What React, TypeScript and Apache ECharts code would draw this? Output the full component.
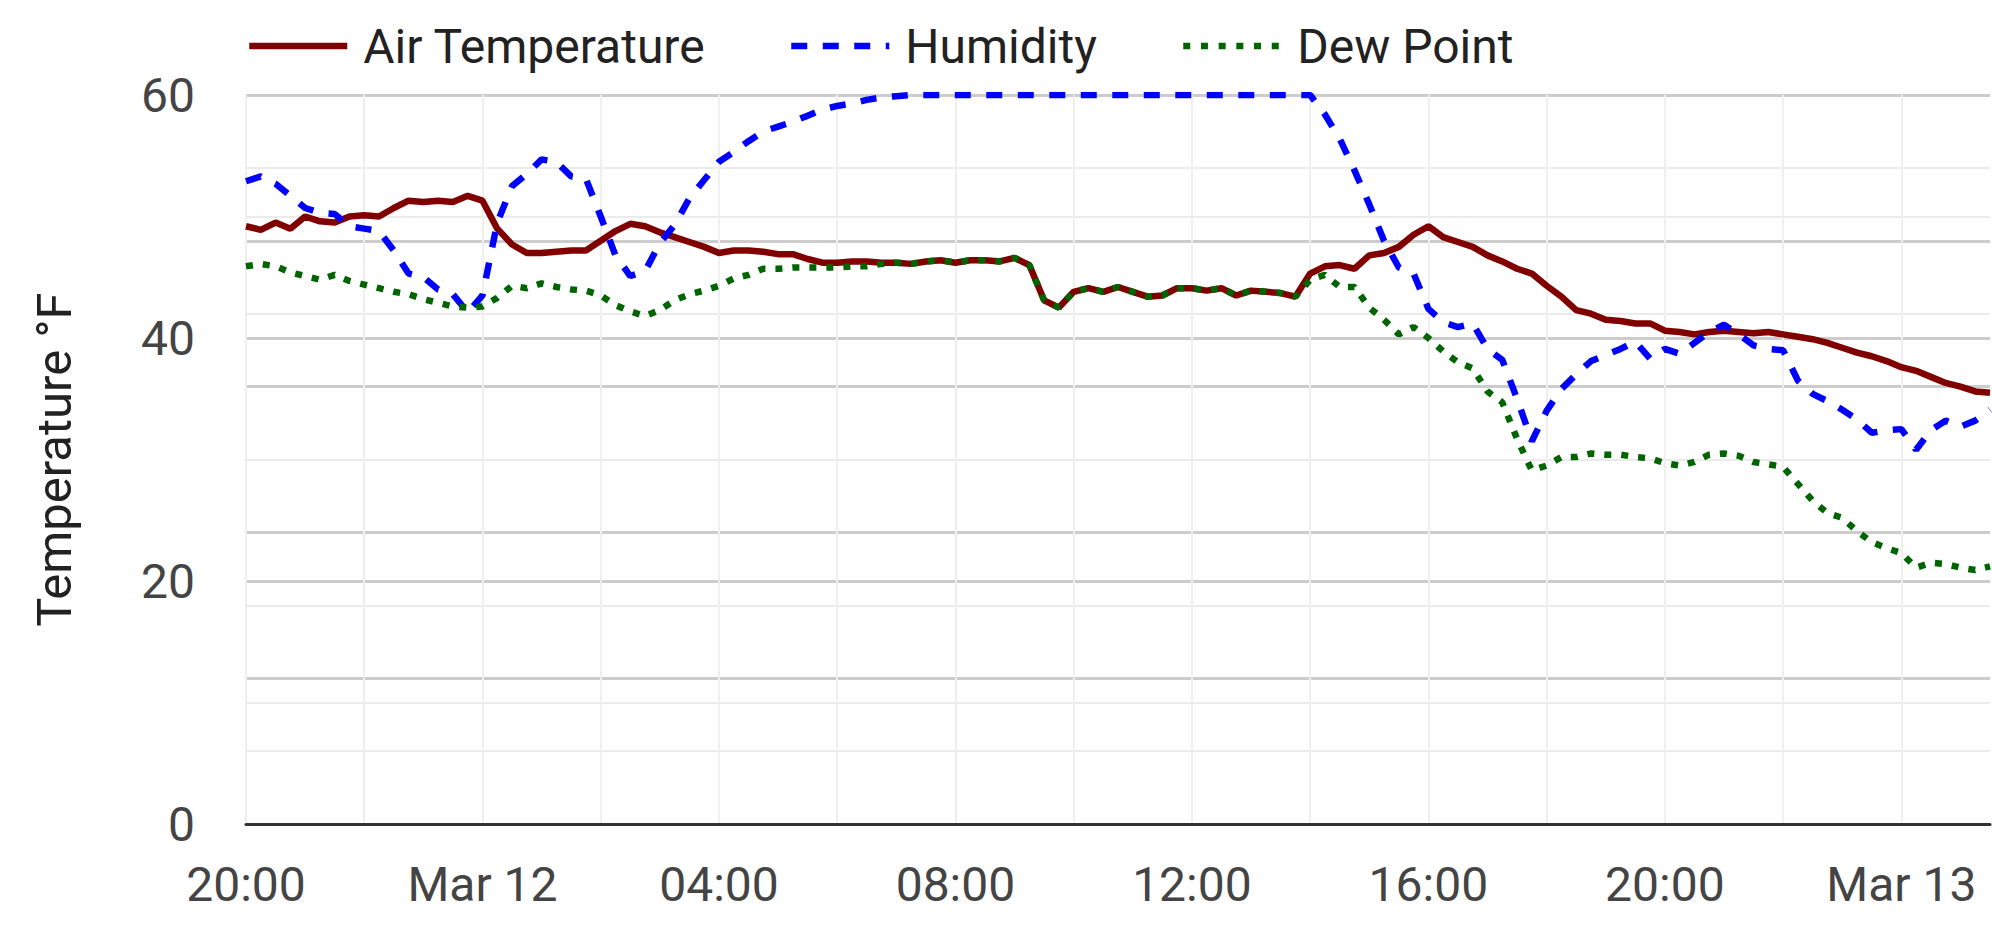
import { useEffect, useRef } from "react";
import * as echarts from "echarts";

// Samples every 15 minutes, starting Mar 11 20:00
const START_DAY = 11;
const START_HOUR = 20;
const STEP_MINUTES = 15;

const airTemperature = [
  49.2, 48.9, 49.5, 49.0, 50.0, 49.6, 49.5, 50.0, 50.1, 50.0,
  50.7, 51.3, 51.2, 51.3, 51.2, 51.7, 51.3, 49.0, 47.7, 47.0,
  47.0, 47.1, 47.2, 47.2, 48.0, 48.8, 49.4, 49.2, 48.7, 48.3,
  47.9, 47.5, 47.0, 47.2, 47.2, 47.1, 46.9, 46.9, 46.5, 46.2,
  46.2, 46.3, 46.3, 46.2, 46.2, 46.1, 46.3, 46.4, 46.2, 46.4,
  46.4, 46.3, 46.6, 46.0, 43.1, 42.5, 43.8, 44.1, 43.8, 44.2,
  43.8, 43.4, 43.5, 44.1, 44.1, 43.9, 44.1, 43.5, 43.9, 43.8,
  43.7, 43.4, 45.3, 45.9, 46.0, 45.7, 46.8, 47.0, 47.5, 48.5,
  49.2, 48.3, 47.9, 47.5, 46.8, 46.3, 45.7, 45.3, 44.3, 43.4,
  42.3, 42.0, 41.5, 41.4, 41.2, 41.2, 40.6, 40.5, 40.3, 40.5,
  40.6, 40.5, 40.4, 40.5, 40.3, 40.1, 39.9, 39.6, 39.2, 38.8,
  38.5, 38.1, 37.6, 37.3, 36.8, 36.3, 36.0, 35.6, 35.5,
];

const humidity = [
  52.9, 53.3, 52.7, 51.7, 50.7, 50.3, 50.2, 49.2, 49.0, 48.8,
  47.2, 45.3, 45.0, 44.0, 43.6, 42.1, 43.5, 49.5, 52.5, 53.5,
  54.7, 54.5, 53.3, 53.1, 50.0, 46.8, 45.1, 45.5, 47.8, 49.3,
  51.5, 53.0, 54.5, 55.3, 56.2, 57.0, 57.4, 57.8, 58.3, 58.8,
  59.1, 59.3, 59.6, 59.8, 59.9, 60, 60, 60, 60, 60,
  60, 60, 60, 60, 60, 60, 60, 60, 60, 60,
  60, 60, 60, 60, 60, 60, 60, 60, 60, 60,
  60, 60, 60, 58.4, 56.4, 53.8, 51.0, 48.0, 45.8, 45.3,
  42.4, 41.3, 40.9, 41.2, 39.1, 38.2, 35.0, 31.5, 34.0, 35.8,
  37.0, 38.1, 38.6, 39.1, 39.7, 38.3, 39.1, 38.7, 39.6, 40.5,
  41.1, 40.3, 39.4, 39.1, 39.0, 36.5, 35.4, 34.8, 34.1, 33.3,
  32.2, 32.4, 32.5, 30.8, 32.4, 33.2, 32.7, 33.2, 34.1,
];

const dewPoint = [
  45.9, 46.1, 45.9, 45.4, 45.1, 44.8, 45.2, 44.7, 44.4, 44.1,
  43.8, 43.6, 43.2, 42.9, 42.6, 42.5, 42.6, 43.3, 44.3, 44.1,
  44.5, 44.2, 44.0, 43.9, 43.5, 42.7, 42.2, 41.8, 42.3, 43.1,
  43.6, 43.9, 44.3, 44.9, 45.2, 45.7, 45.7, 45.8, 45.8, 45.8,
  45.8, 45.9, 45.9, 46.1, 46.2, 46.1, 46.3, 46.4, 46.2, 46.4,
  46.4, 46.3, 46.6, 46.0, 43.1, 42.5, 43.8, 44.1, 43.8, 44.2,
  43.8, 43.4, 43.5, 44.1, 44.1, 43.9, 44.1, 43.5, 43.9, 43.8,
  43.7, 43.4, 44.8, 45.2, 44.2, 44.2, 42.5, 41.5, 40.3, 40.9,
  40.0, 38.9, 38.0, 37.5, 35.6, 34.7, 31.7, 29.1, 29.5, 30.2,
  30.2, 30.5, 30.4, 30.4, 30.2, 30.1, 29.7, 29.5, 29.8, 30.4,
  30.5, 30.3, 29.8, 29.6, 29.4, 28.0, 26.6, 25.6, 25.2, 24.1,
  23.2, 22.7, 22.3, 21.1, 21.5, 21.4, 21.1, 20.9, 21.2,
];

const X_TICK_LABELS = ["20:00", "Mar 12", "04:00", "08:00", "12:00", "16:00", "20:00", "Mar 13"];
const X_LABEL_EVERY = 16; // 4 hours
const X_GRID_EVERY = 8; // 2 hours

const SERIES_NAMES = ["Air Temperature", "Humidity", "Dew Point"];
const SERIES_COLORS = ["#800000", "#0000ff", "#006400"];
const DASH_HUMIDITY = [16, 15.5];
const DOT_DEW = [7, 10];

const pad = (n: number) => String(n).padStart(2, "0");
const times = airTemperature.map((_, i) => {
  const total = START_HOUR * 60 + i * STEP_MINUTES;
  const day = START_DAY + Math.floor(total / 1440);
  const mins = total % 1440;
  return `Mar ${day} ${pad(Math.floor(mins / 60))}:${pad(mins % 60)}`;
});

export default function App() {
  const ref = useRef<HTMLDivElement>(null);

  useEffect(() => {
    if (!ref.current) return;
    const chart = echarts.init(ref.current, null, { renderer: "svg" });
    const font = "Roboto";
    const legendCommon = {
      top: 22,
      padding: 0,
      itemGap: 0,
      itemWidth: 98,
      itemHeight: 14,
      selectedMode: false,
      itemStyle: { color: "rgba(0,0,0,0)", borderWidth: 0, opacity: 0 },
      textStyle: {
        fontFamily: font,
        fontSize: 48,
        color: "#222222",
        padding: [0, 0, 0, 11],
      },
    };
    chart.setOption({
      animation: false,
      backgroundColor: "#ffffff",
      grid: { left: 246, right: 2, top: 95, bottom: 104, containLabel: false },
      legend: [
        {
          ...legendCommon,
          left: 246,
          data: [SERIES_NAMES[0]],
          lineStyle: { width: 6.5, color: SERIES_COLORS[0], type: "solid", cap: "butt" },
        },
        {
          ...legendCommon,
          left: 788,
          data: [SERIES_NAMES[1]],
          lineStyle: { width: 6.5, color: SERIES_COLORS[1], type: DASH_HUMIDITY, cap: "butt" },
        },
        {
          ...legendCommon,
          left: 1180,
          data: [SERIES_NAMES[2]],
          lineStyle: { width: 6.5, color: SERIES_COLORS[2], type: [7, 10.7], cap: "butt" },
        },
      ],
      xAxis: {
        type: "category",
        boundaryGap: false,
        data: times,
        axisLine: { show: true, onZero: true, lineStyle: { color: "#333333", width: 3 } },
        axisTick: { show: false },
        axisLabel: {
          interval: (index: number) => index % X_LABEL_EVERY === 0,
          formatter: (value: string) => {
            const i = times.indexOf(value);
            return i % X_LABEL_EVERY === 0 ? X_TICK_LABELS[i / X_LABEL_EVERY] ?? "" : "";
          },
          fontFamily: font,
          fontSize: 48,
          color: "#444444",
          margin: 36,
        },
        splitLine: {
          show: true,
          interval: (index: number) => index % X_GRID_EVERY === 0,
          lineStyle: { color: "#efefef", width: 2 },
        },
      },
      yAxis: [
        {
          type: "value",
          min: 0,
          max: 60,
          interval: 20,
          name: "Temperature °F",
          nameLocation: "middle",
          nameGap: 167,
          nameRotate: 90,
          nameTextStyle: { fontFamily: font, fontSize: 49, color: "#222222" },
          axisLine: { show: false },
          axisTick: { show: false },
          axisLabel: { fontFamily: font, fontSize: 48, color: "#444444", margin: 51 },
          splitLine: { show: true, lineStyle: { color: "#cccccc", width: 3 } },
          minorTick: { show: false, splitNumber: 2 },
          minorSplitLine: { show: true, lineStyle: { color: "#ebebeb", width: 2 } },
        },
        {
          type: "value",
          min: 0,
          max: 60,
          interval: 12,
          position: "right",
          axisLine: { show: false },
          axisTick: { show: false },
          axisLabel: { show: false },
          splitLine: { show: true, lineStyle: { color: "#cccccc", width: 3 } },
          minorTick: { show: false, splitNumber: 2 },
          minorSplitLine: { show: true, lineStyle: { color: "#ebebeb", width: 2 } },
        },
      ],
      series: [
        {
          name: SERIES_NAMES[0],
          type: "line",
          data: airTemperature,
          symbol: "none",
          color: SERIES_COLORS[0],
          lineStyle: { color: SERIES_COLORS[0], width: 6.5 },
        },
        {
          name: SERIES_NAMES[1],
          type: "line",
          data: humidity,
          symbol: "none",
          color: SERIES_COLORS[1],
          lineStyle: { color: SERIES_COLORS[1], width: 6.5, type: DASH_HUMIDITY, cap: "butt" },
        },
        {
          name: SERIES_NAMES[2],
          type: "line",
          data: dewPoint,
          symbol: "none",
          color: SERIES_COLORS[2],
          lineStyle: { color: SERIES_COLORS[2], width: 6.5, type: DOT_DEW, cap: "butt" },
        },
      ],
    });
    return () => chart.dispose();
  }, []);

  return (
    <div
      ref={ref}
      style={{ position: "fixed", left: 0, top: 0, width: 1992, height: 928, background: "#fff" }}
    />
  );
}
